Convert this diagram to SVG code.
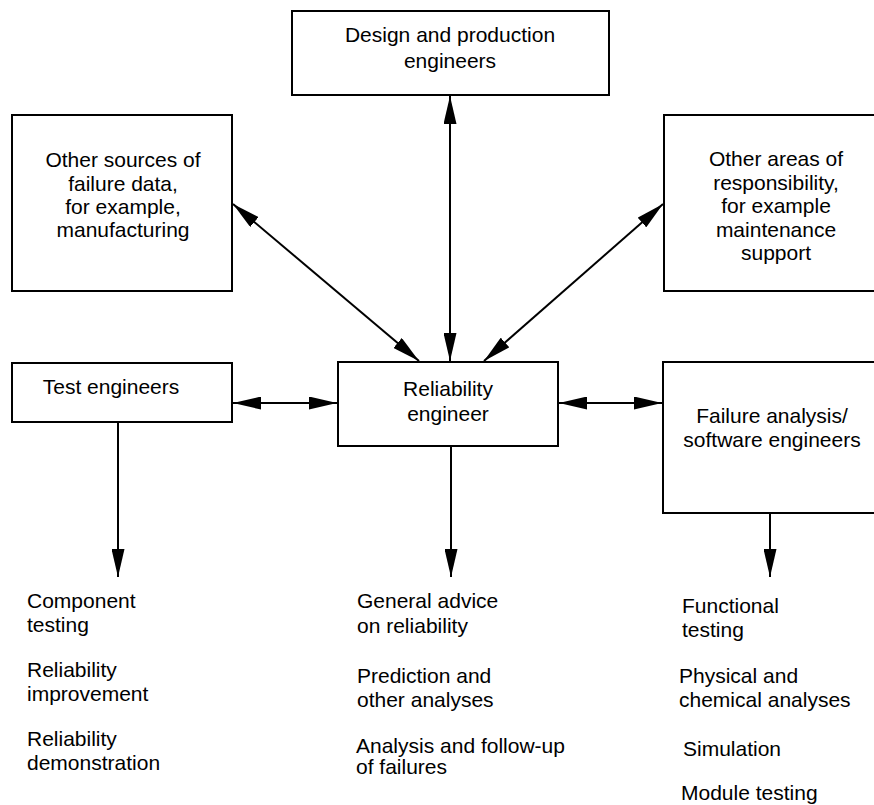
<svg xmlns="http://www.w3.org/2000/svg" width="874" height="805" viewBox="0 0 874 805">
<style>
.box{fill:#fff;stroke:#000;stroke-width:2}
.t{font-family:"Liberation Sans",Arial,sans-serif;font-size:21px;fill:#000}
.c{text-anchor:middle}
.ln{stroke:#000;stroke-width:2;fill:none}
</style>
<defs>
<marker id="ah" viewBox="0 0 28 13" refX="28" refY="6.5" markerWidth="28" markerHeight="13" orient="auto-start-reverse" markerUnits="userSpaceOnUse">
<path d="M0,0 L28,6.5 L0,13 z" fill="#000"/>
</marker>
</defs>
<rect width="874" height="805" fill="#fff"/>
<g id="design">
<rect class="box" x="292" y="11" width="317" height="84"/>
<text class="t c" x="450" y="42">Design and production</text>
<text class="t c" x="450" y="68">engineers</text>
</g>
<g id="other-sources">
<rect class="box" x="12" y="115" width="220" height="176"/>
<text class="t c" x="123" y="167">Other sources of</text>
<text class="t c" x="123" y="191">failure data,</text>
<text class="t c" x="123" y="214">for example,</text>
<text class="t c" x="123" y="237">manufacturing</text>
</g>
<g id="other-areas">
<rect class="box" x="664" y="115" width="230" height="176"/>
<text class="t c" x="776" y="166">Other areas of</text>
<text class="t c" x="776" y="190">responsibility,</text>
<text class="t c" x="776" y="213">for example</text>
<text class="t c" x="776" y="237">maintenance</text>
<text class="t c" x="776" y="260">support</text>
</g>
<g id="test">
<rect class="box" x="12" y="363" width="220" height="59"/>
<text class="t c" x="111" y="394">Test engineers</text>
</g>
<g id="reliability">
<rect class="box" x="338" y="362" width="220" height="84"/>
<text class="t c" x="448" y="396">Reliability</text>
<text class="t c" x="448" y="421">engineer</text>
</g>
<g id="failure">
<rect class="box" x="663" y="362" width="230" height="151"/>
<text class="t c" x="772" y="423">Failure analysis/</text>
<text class="t c" x="772" y="447">software engineers</text>
</g>
<g id="test-tasks">
<text class="t" x="27" y="608">Component</text>
<text class="t" x="27" y="632">testing</text>
<text class="t" x="27" y="677">Reliability</text>
<text class="t" x="27" y="701">improvement</text>
<text class="t" x="27" y="746">Reliability</text>
<text class="t" x="27" y="770">demonstration</text>
</g>
<g id="reliability-tasks">
<text class="t" x="357" y="608">General advice</text>
<text class="t" x="357" y="633">on reliability</text>
<text class="t" x="357" y="683">Prediction and</text>
<text class="t" x="357" y="707">other analyses</text>
<text class="t" x="356" y="753">Analysis and follow-up</text>
<text class="t" x="356" y="774">of failures</text>
</g>
<g id="failure-tasks">
<text class="t" x="682" y="613">Functional</text>
<text class="t" x="682" y="637">testing</text>
<text class="t" x="679" y="683">Physical and</text>
<text class="t" x="679" y="707">chemical analyses</text>
<text class="t" x="683" y="756">Simulation</text>
<text class="t" x="681" y="800">Module testing</text>
</g>
<g id="connectors">
<line class="ln" x1="450" y1="96" x2="450" y2="361" marker-start="url(#ah)" marker-end="url(#ah)"/>
<line class="ln" x1="233" y1="204" x2="419" y2="361" marker-start="url(#ah)" marker-end="url(#ah)"/>
<line class="ln" x1="663" y1="204" x2="484" y2="361" marker-start="url(#ah)" marker-end="url(#ah)"/>
<line class="ln" x1="233" y1="403" x2="337" y2="403" marker-start="url(#ah)" marker-end="url(#ah)"/>
<line class="ln" x1="559" y1="403" x2="662" y2="403" marker-start="url(#ah)" marker-end="url(#ah)"/>
<line class="ln" x1="118" y1="422" x2="118" y2="577" marker-end="url(#ah)"/>
<line class="ln" x1="451" y1="446" x2="451" y2="577" marker-end="url(#ah)"/>
<line class="ln" x1="770" y1="513" x2="770" y2="577" marker-end="url(#ah)"/>
</g>
</svg>
